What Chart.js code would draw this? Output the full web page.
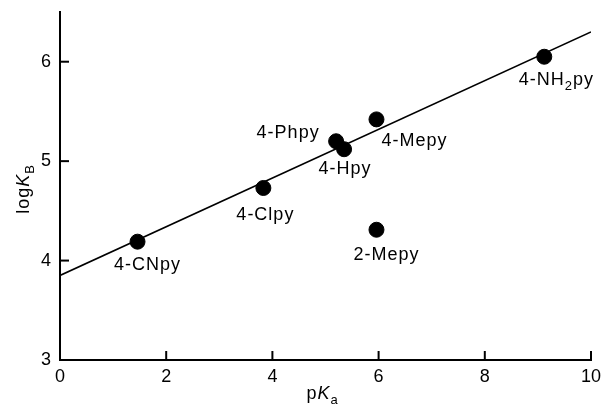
<!DOCTYPE html>
<html>
<head>
<meta charset="utf-8">
<script src="https://cdn.jsdelivr.net/npm/chart.js@4/dist/chart.umd.min.js"></script>
<style>
  html, body { margin: 0; padding: 0; background: #fff; }
  canvas { display: block; }
</style>
</head>
<body>
<canvas id="chart" width="603" height="405"></canvas>
<script>
// pyridine bases: pKa vs log K_B
const names = ['4-CNpy', '4-Clpy', '4-Phpy', '4-Hpy', '4-Mepy', '2-Mepy', '4-NH_{2}py'];
const pKa = [1.46, 3.83, 5.20, 5.35, 5.96, 5.96, 9.12];
const logKB = [4.19, 4.73, 5.20, 5.12, 5.42, 4.31, 6.05];

// fitted straight line (ends)
const fitX = [0, 10];
const fitY = [3.85, 6.30];

const xTicks = [0, 2, 4, 6, 8, 10];
const yTicks = [3, 4, 5, 6];

// where each name sits relative to its dot (px)
const labelOffsets = [[10, 28], [2, 32], [-48, -3], [1, 25], [38, 27], [10, 30], [12, 28]];

const FONT = "'Liberation Sans', Arial, sans-serif";
const SPACING = 1; // the scanned lettering is a bit loose

// split "4-NH_{2}py" into normal / subscript parts
function parseLabel(s) {
  const parts = [];
  const re = /_\{([^}]*)\}/g;
  let last = 0, m;
  while ((m = re.exec(s))) {
    if (m.index > last) parts.push({ text: s.slice(last, m.index) });
    parts.push({ text: m[1], sub: true });
    last = re.lastIndex;
  }
  if (last < s.length) parts.push({ text: s.slice(last) });
  return parts;
}

function partFont(p) {
  return (p.italic ? 'italic ' : '') + (p.sub ? '13px ' : '18px ') + FONT;
}

function partWidth(ctx, p) {
  ctx.font = partFont(p);
  return ctx.measureText(p.text).width + SPACING * p.text.length;
}

// draws parts centred on x, baseline y
function drawParts(ctx, parts, x, y) {
  ctx.save();
  let total = 0;
  parts.forEach(p => { total += partWidth(ctx, p); });
  let cx = x - total / 2;
  ctx.textAlign = 'left';
  ctx.textBaseline = 'alphabetic';
  ctx.fillStyle = '#000';
  parts.forEach(p => {
    ctx.font = partFont(p);
    for (const ch of p.text) {
      ctx.fillText(ch, cx, y + (p.sub ? 5 : 0));
      cx += ctx.measureText(ch).width + SPACING;
    }
  });
  ctx.restore();
}

const decorations = {
  id: 'decorations',
  afterDraw(chart) {
    const { ctx, scales: { x, y } } = chart;
    ctx.save();
    ctx.strokeStyle = '#000';
    ctx.lineWidth = 2;
    // inward tick marks
    xTicks.forEach(v => {
      const px = x.getPixelForValue(v);
      ctx.beginPath();
      ctx.moveTo(px, y.bottom);
      ctx.lineTo(px, y.bottom - 9);
      ctx.stroke();
    });
    yTicks.forEach(v => {
      const py = y.getPixelForValue(v);
      ctx.beginPath();
      ctx.moveTo(x.left, py);
      ctx.lineTo(x.left + 9, py);
      ctx.stroke();
    });
    ctx.restore();

    // point names
    names.forEach((n, i) => {
      const px = x.getPixelForValue(pKa[i]) + labelOffsets[i][0];
      const py = y.getPixelForValue(logKB[i]) + labelOffsets[i][1];
      drawParts(ctx, parseLabel(n), px, py);
    });

    // axis titles
    drawParts(ctx, [{ text: 'p' }, { text: 'K', italic: true }, { text: 'a', sub: true }],
      (x.left + x.right) / 2 - 3, 399);
    ctx.save();
    ctx.translate(29, 189);
    ctx.rotate(-Math.PI / 2);
    drawParts(ctx, [{ text: 'log' }, { text: 'K', italic: true }, { text: 'B', sub: true }], 0, 0);
    ctx.restore();
  }
};

new Chart(document.getElementById('chart'), {
  type: 'scatter',
  data: {
    datasets: [
      {
        label: 'bases',
        data: pKa.map((v, i) => ({ x: v, y: logKB[i] })),
        backgroundColor: '#000',
        borderColor: '#000',
        pointRadius: 7.5,
        pointHoverRadius: 7.5,
      },
      {
        label: 'fit',
        data: fitX.map((v, i) => ({ x: v, y: fitY[i] })),
        showLine: true,
        borderColor: '#000',
        borderWidth: 1.6,
        pointRadius: 0,
      },
    ],
  },
  options: {
    responsive: false,
    animation: false,
    devicePixelRatio: 1,
    layout: { padding: { top: 12, right: 12, left: 0, bottom: 0 } },
    plugins: { legend: { display: false }, tooltip: { enabled: false } },
    scales: {
      x: {
        type: 'linear',
        min: 0,
        max: 10,
        afterBuildTicks: s => { s.ticks = xTicks.map(v => ({ value: v })); },
        afterFit: s => { s.height = 45; s.paddingLeft = 0; s.paddingRight = 0; },
        ticks: { color: '#000', font: { size: 18, family: FONT }, padding: 6, maxRotation: 0 },
        grid: { display: false, drawTicks: false },
        border: { color: '#000', width: 2 },
      },
      y: {
        type: 'linear',
        min: 3,
        max: 6.5,
        afterBuildTicks: s => { s.ticks = yTicks.map(v => ({ value: v })); },
        afterFit: s => { s.width = 60; s.paddingTop = 0; s.paddingBottom = 0; },
        ticks: { color: '#000', font: { size: 18, family: FONT }, padding: 9 },
        grid: { display: false, drawTicks: false },
        border: { color: '#000', width: 2 },
      },
    },
  },
  plugins: [decorations],
});
</script>
</body>
</html>
